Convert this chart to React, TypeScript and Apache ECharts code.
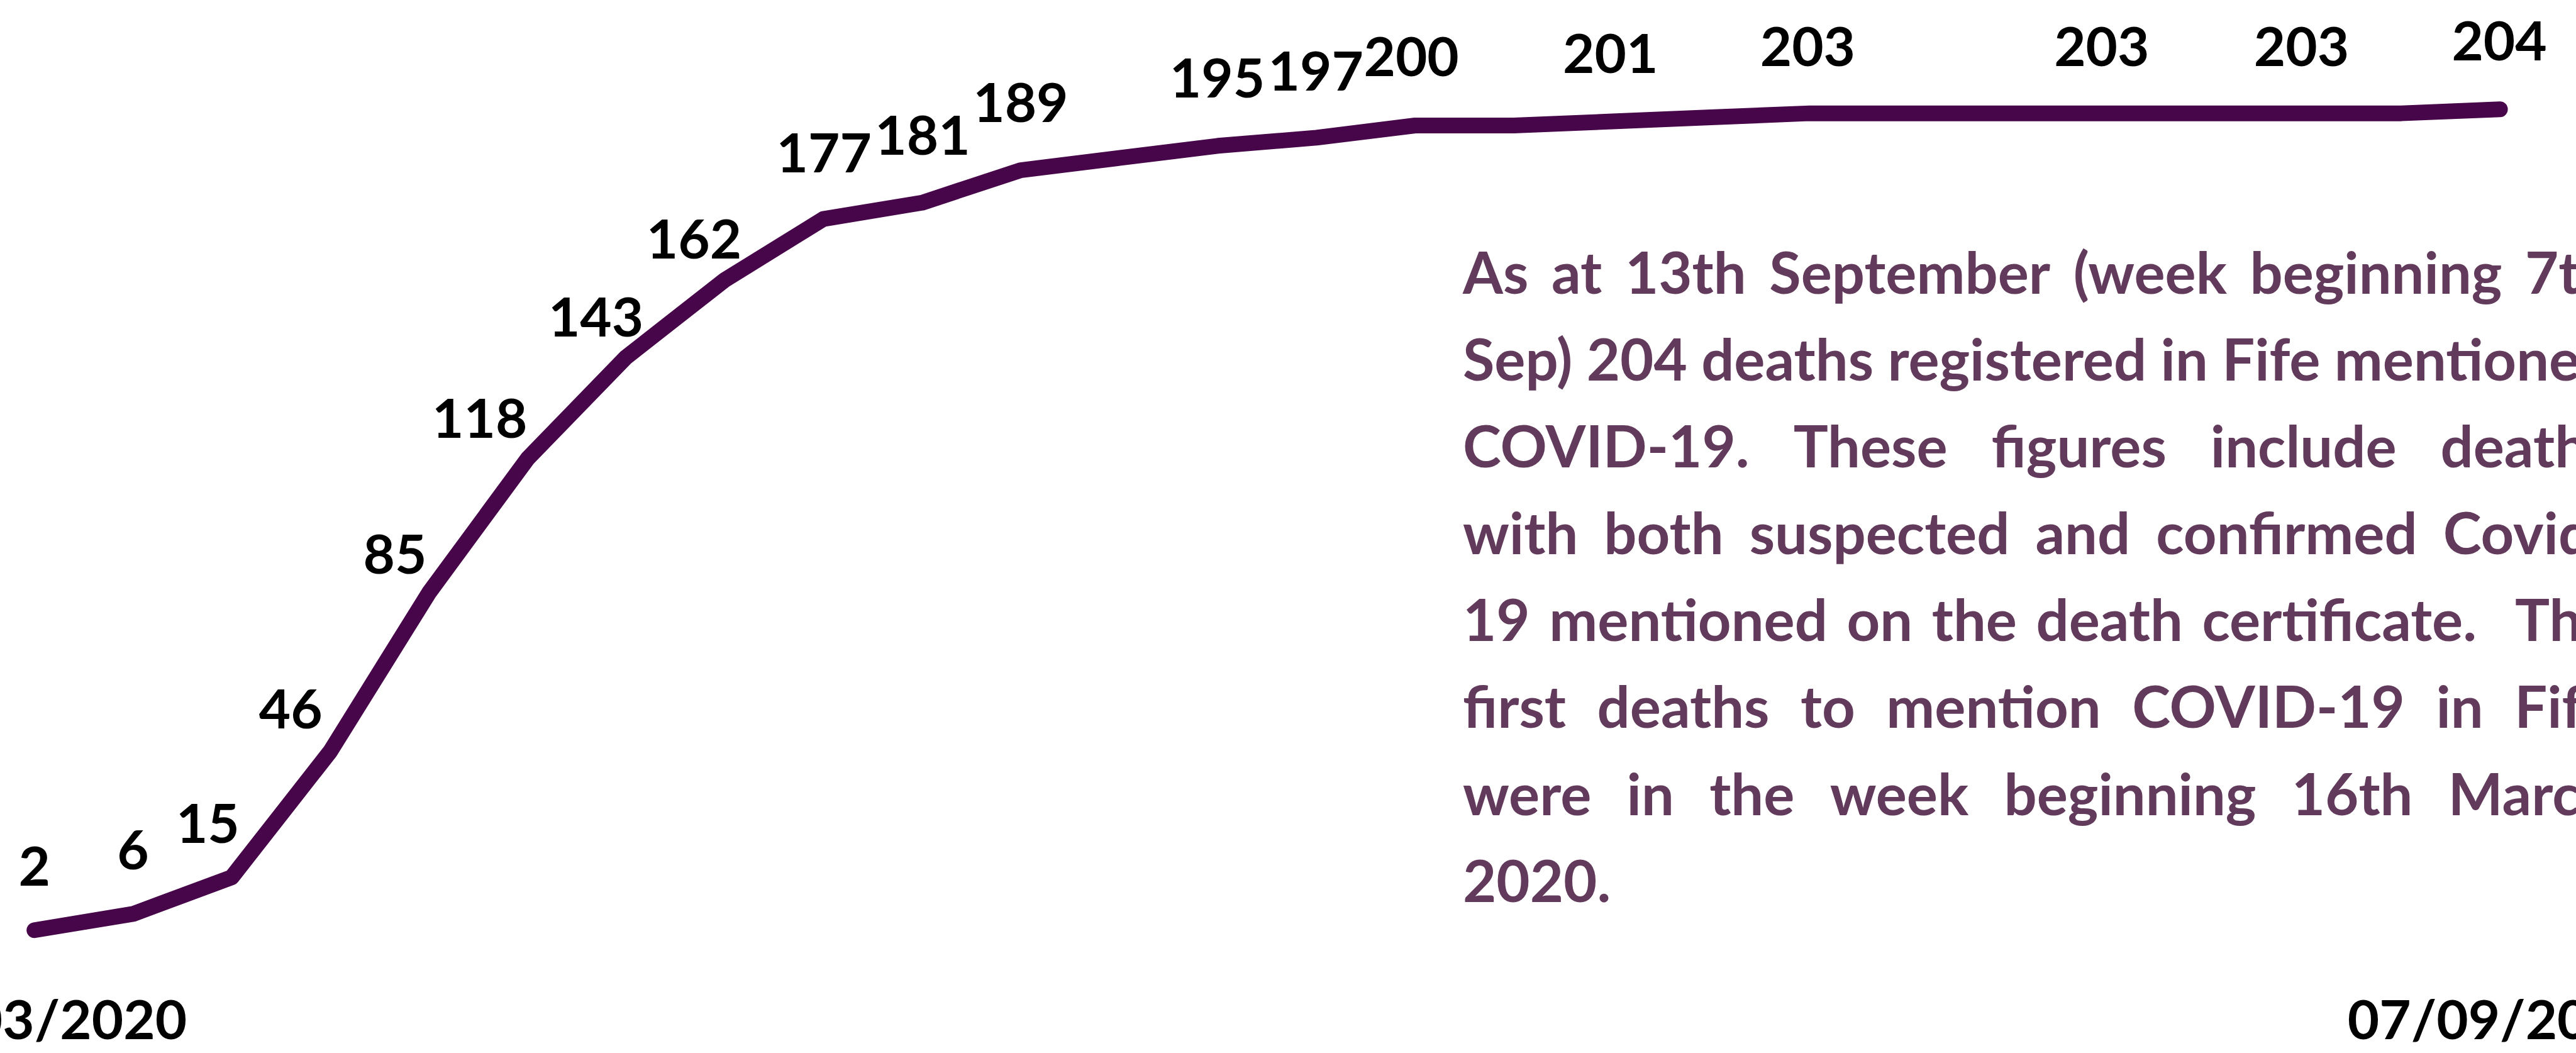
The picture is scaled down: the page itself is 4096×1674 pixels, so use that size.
import React, { useEffect, useRef } from "react";
import * as echarts from "echarts";

// ---- data ----
const weeks = [
  "16/03/2020", "23/03/2020", "30/03/2020", "06/04/2020", "13/04/2020", "20/04/2020",
  "27/04/2020", "04/05/2020", "11/05/2020", "18/05/2020", "25/05/2020", "01/06/2020",
  "08/06/2020", "15/06/2020", "22/06/2020", "29/06/2020", "06/07/2020", "13/07/2020",
  "20/07/2020", "27/07/2020", "03/08/2020", "10/08/2020", "17/08/2020", "24/08/2020",
  "31/08/2020", "07/09/2020",
];
const deaths = [
  2, 6, 15, 46, 85, 118, 143, 162, 177, 181, 189, 192, 195, 197, 200, 200, 201, 202,
  203, 203, 203, 203, 203, 203, 203, 204,
];
const labelShown = [
  true, true, true, true, true, true, true, true, true, true, true, false, true, true,
  true, false, true, false, true, false, false, true, false, true, false, true,
];
const noteLines = [
  "As at 13th September (week beginning 7th",
  "Sep) 204 deaths registered in Fife mentioned",
  "COVID-19. These figures include deaths",
  "with both suspected and confirmed Covid-",
  "19 mentioned on the death certificate.  The",
  "first deaths to mention COVID-19 in Fife",
  "were in the week beginning 16th March",
  "2020.",
];

// ---- styles ----
const LINE_COLOR = "#48064A";
const NOTE_COLOR = "#623B5C";
const FONT = "Lato";
const LABEL_SIZE = 87;
const NOTE_SIZE = 92;
// label offsets (px) from each point to its label centre
const labelOffsets: number[][] = [
  [0, -104], [0, -104], [-38, -88], [-63, -69.5], [-54, -64.5], [-76, -66.5],
  [-48, -66.5], [-49, -67.5], [1, -108], [1, -110], [0, -110], [0, 0],
  [-1, -110], [-1, -108], [-6, -112], [0, 0], [-3, -111], [0, 0],
  [-3, -109], [0, 0], [0, 0], [-6, -109], [0, 0], [-2, -109], [0, 0], [-1, -111.5],
];

export default function App() {
  const ref = useRef<HTMLDivElement>(null);
  useEffect(() => {
    document.body.style.margin = "0";
    const chart = echarts.init(ref.current!, null, { renderer: "svg" });

    // justified note text
    const canvas = document.createElement("canvas");
    const ctx = canvas.getContext("2d")!;
    ctx.font = `bold ${NOTE_SIZE}px ${FONT}`;
    const left = 2326;
    const right = left + ctx.measureText(noteLines[1]).width;
    const firstCentre = 431.4;
    const lineGap = 138.1;
    const elements: any[] = [];
    noteLines.forEach((line, li) => {
      const natural = ctx.measureText(line).width;
      const nSpaces = (line.match(/ /g) || []).length;
      const isLast = li === noteLines.length - 1;
      const extra = !isLast && nSpaces > 0 ? (right - left - natural) / nSpaces : 0;
      const y = firstCentre + li * lineGap;
      let pos = 0;
      let spaces = 0;
      const tokens = line.split(" ");
      tokens.forEach((tok, ti) => {
        if (tok.length > 0) {
          const x = left + ctx.measureText(line.slice(0, pos)).width + extra * spaces;
          elements.push({
            type: "text",
            x,
            y,
            silent: true,
            style: {
              text: tok,
              fill: NOTE_COLOR,
              fontFamily: FONT,
              fontWeight: "bold",
              fontSize: NOTE_SIZE,
              align: "left",
              verticalAlign: "middle",
              textAlign: "left",
              textVerticalAlign: "middle",
            },
          });
        }
        pos += tok.length + 1;
        if (ti < tokens.length - 1) spaces += 1;
      });
    });

    const last = weeks.length - 1;
    chart.setOption({
      animation: false,
      backgroundColor: "#ffffff",
      grid: {
        left: 54.7,
        right: 120.9,
        top: 70.3,
        bottom: 182.3,
        containLabel: false,
        outerBoundsMode: "none",
      },
      xAxis: {
        type: "category",
        data: weeks,
        boundaryGap: false,
        axisLine: { show: false },
        axisTick: { show: false },
        splitLine: { show: false },
        axisLabel: {
          interval: (i: number) => i === 0 || i === last,
          margin: 126.8,
          verticalAlign: "middle",
          color: "#000",
          fontFamily: FONT,
          fontWeight: "bold",
          fontSize: LABEL_SIZE,
        },
      },
      yAxis: {
        type: "value",
        min: 0,
        max: 220,
        show: false,
        splitLine: { show: false },
      },
      series: [
        {
          type: "line",
          silent: true,
          data: deaths.map((v, i) => ({
            value: v,
            label: { show: labelShown[i], offset: labelOffsets[i] },
          })),
          symbol: "circle",
          symbolSize: 1,
          showSymbol: true,
          itemStyle: { color: "rgba(0,0,0,0)" },
          lineStyle: { color: LINE_COLOR, width: 25, cap: "round", join: "round" },
          label: {
            show: true,
            position: "inside",
            align: "center",
            verticalAlign: "middle",
            color: "#000",
            fontFamily: FONT,
            fontWeight: "bold",
            fontSize: LABEL_SIZE,
          },
          emphasis: { disabled: true },
        },
      ],
      graphic: { elements },
    });
    return () => chart.dispose();
  }, []);
  return (
    <div
      ref={ref}
      style={{ position: "fixed", left: 0, top: 0, width: 4096, height: 1674, background: "#fff" }}
    />
  );
}
